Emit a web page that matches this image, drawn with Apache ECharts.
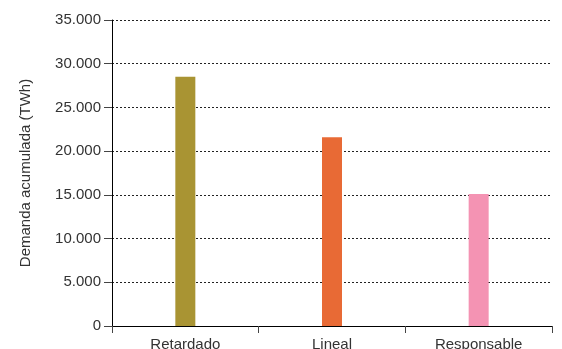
<!DOCTYPE html>
<html><head><meta charset="utf-8">
<script src="https://cdn.jsdelivr.net/npm/echarts@6/dist/echarts.min.js"></script>
<style>html,body{margin:0;padding:0;background:#fff}#c{width:562px;height:349px}</style>
</head><body><div id="c"></div>
<script>
const categories = ['Retardado', 'Lineal', 'Responsable'];
const values = [28500, 21600, 15100];
const barColors = ['#A99433', '#E86A35', '#F493B3'];
const yAxisName = 'Demanda acumulada (TWh)';

const chart = echarts.init(document.getElementById('c'), null, {renderer: 'canvas'});
const font = 'Liberation Sans, Arial, Helvetica, sans-serif';
chart.setOption({
  animation: false,
  grid: {left: 112, right: 10, top: 20, bottom: 23, containLabel: false, outerBoundsMode: 'none'},
  xAxis: {
    type: 'category', data: categories,
    axisLine: {lineStyle: {color: '#000', width: 1}},
    axisTick: {show: true, alignWithLabel: false, length: 7, lineStyle: {color: '#444'}},
    axisLabel: {color: '#333', fontFamily: font, fontSize: 15, margin: 11}
  },
  yAxis: {
    type: 'value', min: 0, max: 35000, interval: 5000,
    name: yAxisName, nameLocation: 'middle', nameGap: 79, nameRotate: 90,
    nameTextStyle: {color: '#333', fontFamily: font, fontSize: 15},
    axisLine: {show: true, lineStyle: {color: '#000', width: 1}},
    axisTick: {show: true, length: 8, lineStyle: {color: '#444'}},
    axisLabel: {color: '#333', fontFamily: font, fontSize: 15, margin: 11,
      formatter: v => v === 0 ? '0' : String(v).replace(/\B(?=(\d{3})+(?!\d))/g, '.')},
    splitLine: {show: true, lineStyle: {color: '#222', type: [2, 2], width: 1}}
  },
  series: [{
    type: 'bar', barWidth: 20,
    data: values.map((v, i) => ({value: v, itemStyle: {color: barColors[i]}}))
  }]
});
</script></body></html>
